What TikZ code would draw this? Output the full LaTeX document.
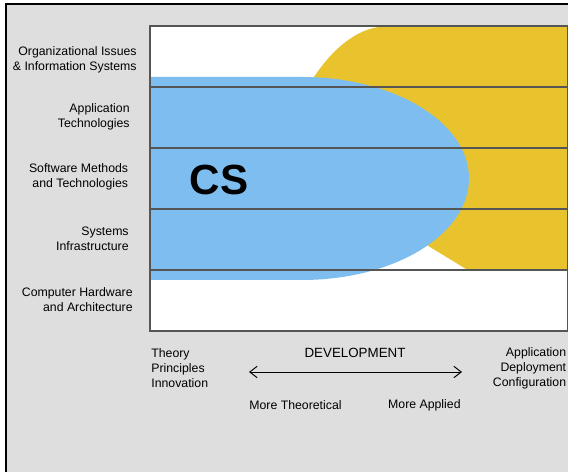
\documentclass[tikz,border=0pt]{standalone}
\usepackage{fontspec}
\setmainfont{Liberation Sans}
\usetikzlibrary{arrows.meta}

\definecolor{csblue}{RGB}{126,189,239}
\definecolor{isgold}{RGB}{233,195,45}
\definecolor{framegray}{RGB}{222,222,222}
\definecolor{rulegray}{RGB}{85,85,85}

\tikzset{
    rowlabel/.style={align=right, anchor=east, inner sep=0pt,
                     font=\fontsize{7}{8.5}\selectfont},
    axislabel/.style={inner sep=0pt, font=\fontsize{7}{8.5}\selectfont},
}

\begin{document}
\begin{tikzpicture}[x=0.02cm, y=-0.02cm]
    \pgfmathsetmacro {\bl}{150}    %Box left
    \pgfmathsetmacro {\bt}{26}     %Box top
    \pgfmathsetmacro {\br}{567.5}  %Box right
    \pgfmathsetmacro {\rh}{61}     %Row height
    \useasboundingbox (0,0) rectangle (568,472);
    \clip (0,0) rectangle (568,472);
    \fill[white] (0,0) rectangle (568,472);

    %Outer frame
    \draw[line width=1.15pt, fill=framegray] (6,4) rectangle (640,540);

    %White box
    \fill[white] (\bl,\bt) rectangle (\br,\bt+5*\rh);

    %Yellow area (rows 1-4 only)
    \begin{scope}
        \clip (\bl,\bt) rectangle (\br,\bt+4*\rh);
        \fill[isgold] (640,\bt) -- (390,\bt)
            .. controls (360,\bt) and (330,45) .. (300,100)
            .. controls (280,135) and (346,195) .. (430,247)
            -- (520,302) -- (640,302) -- cycle;
    \end{scope}

    %Blue area
    \fill[csblue] (\bl,77) -- (302,77)
        arc[start angle=-90, end angle=90, x radius=167, y radius=101.5]
        -- (\bl,280) -- cycle;

    %Row lines and box
    \foreach \i in {1,...,4} {
        \draw[rulegray, line width=0.75pt] (\bl,\bt+\i*\rh) -- (\br,\bt+\i*\rh);
    }
    \draw[rulegray, line width=0.6pt] (\bl,\bt) rectangle (\br,\bt+5*\rh);

    %Row labels
    \node[rowlabel] (orgis)   at (137,59.5) {Organizational Issues\\\& Information Systems};
    \node[rowlabel] (apptech) at (130,117)  {Application\\Technologies};
    \node[rowlabel] (swmeth)  at (128.5,177) {Software Methods\\and Technologies};
    \node[rowlabel] (sysinf)  at (129,238.5) {Systems\\Infrastructure};
    \node[rowlabel] (comphw)  at (133,300)  {Computer Hardware\\and Architecture};

    \node[font=\fontsize{24}{24}\selectfont\bfseries] (cs) at (219,180) {CS};

    %Development axis
    \node[axislabel, align=left, anchor=west]  (theory) at (151,368.5) {Theory\\Principles\\Innovation};
    \node[axislabel, align=right, anchor=east] (applic) at (566.5,368.5) {Application\\Deployment\\Configuration};
    \node[axislabel, font=\fontsize{7.6}{9}\selectfont] (devel) at (355,353) {DEVELOPMENT};
    \coordinate (devL) at (249,372);
    \coordinate (devR) at (462,372);
    \draw[{Straight Barb[length=4.2pt,width=6.5pt]}-{Straight Barb[length=4.2pt,width=6.5pt]},
          line width=0.55pt] (devL) -- (devR);
    \node[axislabel, anchor=west] (morethe) at (249,405) {More Theoretical};
    \node[axislabel, anchor=east] (moreapp) at (461,405) {More Applied};
\end{tikzpicture}
\end{document}
